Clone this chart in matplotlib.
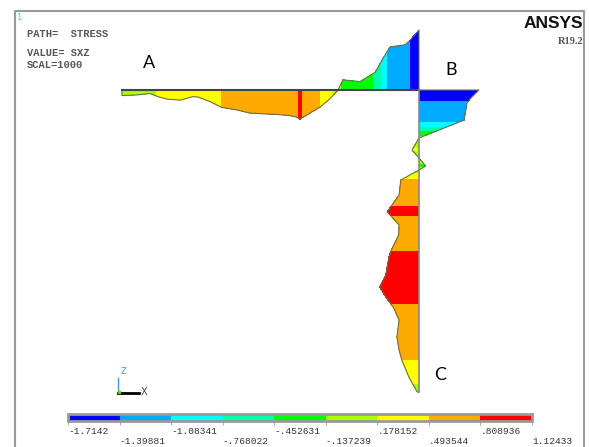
import numpy as np
import matplotlib.pyplot as plt
from matplotlib import transforms

# contour bands of SXZ (ANSYS legend)
levels = [-1.7142, -1.39881, -1.08341, -0.768022, -0.452631,
          -0.137239, 0.178152, 0.493544, 0.808936, 1.12433]
level_labels = ['-1.7142', '-1.39881', '-1.08341', '-.768022', '-.452631',
                '-.137239', '.178152', '.493544', '.808936', '1.12433']
band_colors = ['#0000ff', '#00aaff', '#00ffff', '#00ffaa', '#00ff00',
               '#aaff00', '#ffff00', '#ffaa00', '#ff0000']

# path A -> B (distance from A) and stress values
ab_dist = np.array([0, 15, 28, 36, 45, 58, 71, 76, 88, 100, 115, 128, 155, 168,
                    174, 178, 182, 198, 208, 216, 221, 238, 253, 261, 268, 283,
                    288, 297])
ab_sxz = np.array([0.16, 0.14, 0.10, 0.19, 0.26, 0.29, 0.19, 0.20, 0.33, 0.50,
                   0.57, 0.66, 0.70, 0.73, 0.77, 0.83, 0.76, 0.49, 0.25, 0.0,
                   -0.29, -0.24, -0.50, -0.90, -1.23, -1.29, -1.42, -1.7142])

# path B -> C (distance from B) and stress values
bc_dist = np.array([0, 8, 13, 30, 48, 60, 68, 76, 80, 90, 105, 115, 122, 127,
                    135, 145, 160, 167, 185, 197, 207, 218, 230, 247, 260, 270,
                    287, 302])
bc_sxz = np.array([-1.7142, -1.48, -1.37, -1.29, 0.0, 0.20, 0.0, -0.19, 0.0,
                   0.52, 0.57, 0.77, 0.91, 0.77, 0.57, 0.58, 0.79, 0.86, 0.95,
                   1.12433, 0.95, 0.72, 0.57, 0.63, 0.57, 0.49, 0.29, 0.05])

# layout (pixels of the ANSYS window)
A_X, B_X, AB_Y = 122, 419, 90
PX_PER_UNIT = 35.0   # display scale of the path plot

fig = plt.figure(figsize=(5.89, 4.47), dpi=100)
ax = fig.add_axes([0, 0, 1, 1])
ax.set_xlim(0, 589)
ax.set_ylim(447, 0)
ax.axis('off')

# A-B : positive stress drawn downwards
xab = A_X + ab_dist
off_ab = ab_sxz * PX_PER_UNIT
X = np.vstack([xab, xab])
Y = np.vstack([np.full_like(off_ab, AB_Y), AB_Y + off_ab])
Z = np.vstack([ab_sxz, ab_sxz])
cs = ax.contourf(X, Y, Z, levels=levels, colors=band_colors)
ax.plot(np.r_[xab[0], xab, xab[-1]], np.r_[AB_Y, AB_Y + off_ab, AB_Y],
        color='#6e6e50', lw=0.8)

# B-C : positive stress drawn to the left
ybc = AB_Y + bc_dist
off_bc = bc_sxz * PX_PER_UNIT
X = np.vstack([np.full_like(off_bc, B_X), B_X - off_bc])
Y = np.vstack([ybc, ybc])
Z = np.vstack([bc_sxz, bc_sxz])
ax.contourf(X, Y, Z, levels=levels, colors=band_colors)
ax.plot(np.r_[B_X, B_X - off_bc, B_X], np.r_[ybc[0], ybc, ybc[-1]],
        color='#6e6e50', lw=0.8)

# path lines
ax.plot([A_X, B_X], [AB_Y, AB_Y], color='#444444', lw=1.5)
ax.plot([B_X, B_X], [AB_Y, ybc[-1]], color='#888888', lw=1.2)

# window frame
ax.plot([15, 15, 584, 584], [447, 11, 11, 447], color='#9a9a9a', lw=1.5)

# header texts
mono = 'Liberation Mono'
ax.text(16, 18, '1', color='#33ccff', fontsize=6, va='center')
ax.text(27, 34, 'PATH=  STRESS', family=mono, weight='bold', fontsize=7.5,
        color='#555555', va='center')
ax.text(27, 53, 'VALUE= SXZ', family=mono, weight='bold', fontsize=7.5,
        color='#555555', va='center')
ax.text(27, 65, 'SCAL=1000', family=mono, weight='bold', fontsize=7.5,
        color='#555555', va='center')
ax.text(583, 23, 'ANSYS', family='Liberation Sans', weight='bold',
        fontsize=12.5, ha='right', va='center', color='#111111')
ax.text(583, 41, 'R19.2', family='Liberation Serif', weight='bold',
        fontsize=7.5, ha='right', va='center', color='#555555')

# point labels
ax.text(149, 63, 'A', family='Lato', fontsize=13, ha='center', va='center')
ax.text(451, 70, 'B', family='Lato', fontsize=13, ha='center', va='center')
ax.text(440, 375, 'C', family='Lato', fontsize=13, ha='center', va='center')

# triad
ax.plot([118, 118], [378, 393], color='#3399ff', lw=1)
ax.plot([118, 139], [393, 393], color='black', lw=2)
ax.plot([119], [392], 's', color='#66cc00', ms=2)
ax.text(121, 371, 'Z', color='#3399ff', fontsize=6, va='center')
ax.text(141, 392, 'X', color='#444444', fontsize=7, va='center')

# legend bar
cax = fig.add_axes([68 / 589, 1 - 421 / 447, 464 / 589, 7 / 447])
cb = fig.colorbar(cs, cax=cax, orientation='horizontal')
cb.outline.set_edgecolor('#999999')
cb.outline.set_linewidth(2)
cb.set_ticks(levels)
cb.set_ticklabels([''] * len(levels))
cax.tick_params(axis='x', length=3, width=0.6, color='#999999')
trans = transforms.blended_transform_factory(cax.transData, ax.transData)
for i, (lv, lab) in enumerate(zip(levels, level_labels)):
    ax.text(lv, 432 if i % 2 == 0 else 442, lab, transform=trans,
            family=mono, fontsize=6.8, color='#333333', va='center')

fig.savefig('out.png', dpi=100)
